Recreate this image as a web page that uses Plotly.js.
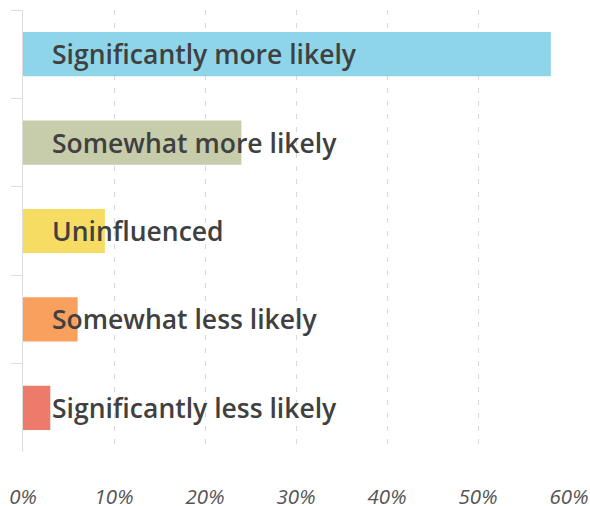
<!DOCTYPE html>
<html>
<head>
<meta charset="utf-8">
<script src="https://cdn.plot.ly/plotly-3.0.1.min.js"></script>
<style>
  html, body { margin: 0; padding: 0; background: #fff; }
  #chart { width: 590px; height: 506px; }
</style>
</head>
<body>
<div id="chart"></div>
<script>
// Survey responses, top to bottom
const categories = [
  'Significantly more likely',
  'Somewhat more likely',
  'Uninfluenced',
  'Somewhat less likely',
  'Significantly less likely'
];
const shares = [58, 24, 9, 6, 3];           // percent of respondents
const tickValues = [0, 10, 20, 30, 40, 50, 60];
const tickLabels = ['0%', '10%', '20%', '30%', '40%', '50%', '60%'];

const barColors = ['#8ed5ea', '#c7cdab', '#f7dc64', '#f9a05e', '#ec7b6b'];

const trace = {
  type: 'bar',
  orientation: 'h',
  x: shares,
  y: categories,
  width: 0.5,
  marker: { color: barColors, line: { width: 0 } },
  hoverinfo: 'x+y'
};

// Category names written across the bars, starting just right of the axis
const labels = categories.map(c => ({
  x: 0,
  y: c,
  xref: 'x',
  yref: 'y',
  text: c,
  showarrow: false,
  xanchor: 'left',
  yanchor: 'middle',
  xshift: 27,
  font: { family: 'Open Sans', size: 26.5, color: '#404040', weight: 600 }
}));

const layout = {
  width: 590,
  height: 506,
  margin: { l: 22.5, r: 21, t: 10, b: 54 },
  paper_bgcolor: '#ffffff',
  plot_bgcolor: '#ffffff',
  showlegend: false,
  bargap: 0.5,
  xaxis: {
    range: [0, 60],
    tickmode: 'array',
    tickvals: tickValues,
    ticktext: tickLabels,
    showgrid: true,
    gridcolor: '#d9d9d9',
    gridwidth: 1,
    griddash: '5px,8px',
    zeroline: false,
    showline: false,
    ticks: '',
    ticklabelstandoff: 30,
    tickfont: { family: 'Open Sans', size: 20.5, color: '#555555', style: 'italic' },
    fixedrange: true
  },
  yaxis: {
    type: 'category',
    autorange: 'reversed',
    showticklabels: false,
    showgrid: false,
    zeroline: false,
    showline: true,
    linecolor: '#dddddd',
    linewidth: 1,
    ticks: 'outside',
    tickson: 'boundaries',
    ticklen: 11,
    tickcolor: '#dddddd',
    tickwidth: 1,
    fixedrange: true
  },
  annotations: labels
};

Plotly.newPlot('chart', [trace], layout, { displayModeBar: false, staticPlot: true });
</script>
</body>
</html>
